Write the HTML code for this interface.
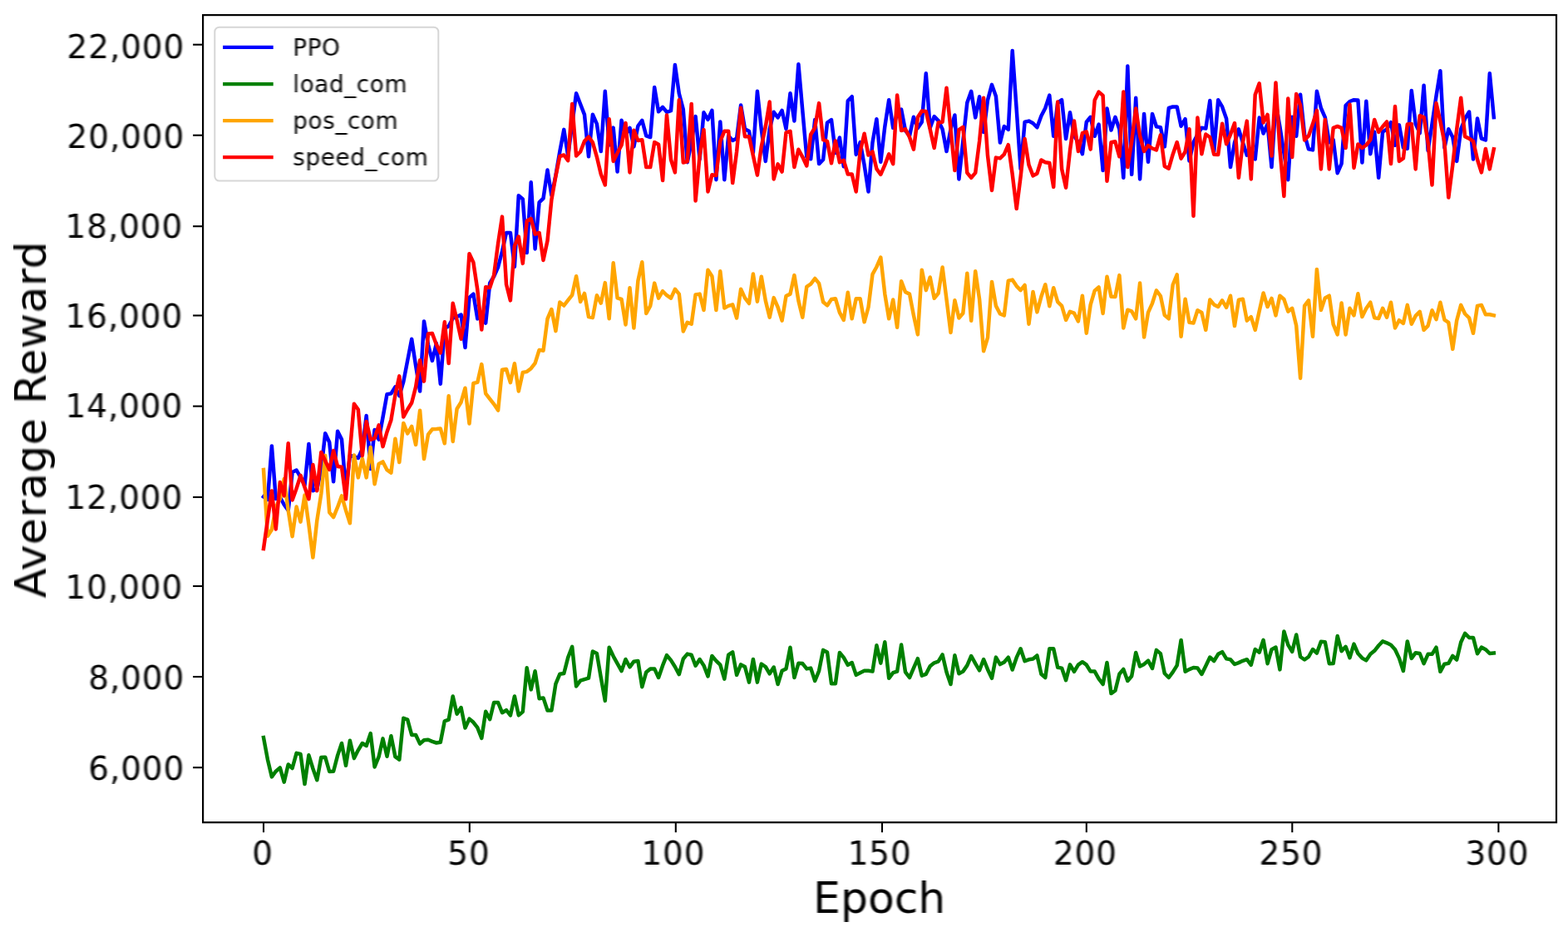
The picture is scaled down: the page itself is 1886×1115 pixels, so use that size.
<!DOCTYPE html>
<html lang="en">
<head>
<meta charset="utf-8">
<title>Average Reward vs Epoch</title>
<style>
html,body{margin:0;padding:0;background:#fff;}
body{width:1886px;height:1115px;overflow:hidden;}
svg{display:block;}
text{font-family:"DejaVu Sans","Liberation Sans",sans-serif;fill:#000;}
.tk{font-size:38.9px;letter-spacing:0.9px;}
.lg{font-size:27.8px;letter-spacing:0.65px;}
.ax{font-size:52px;}
.ay{letter-spacing:0.4px;}
</style>
</head>
<body>
<svg width="1886" height="1115" viewBox="0 0 1886 1115">
<rect x="0" y="0" width="1886" height="1115" fill="#ffffff"/>
<defs><filter id="bl" x="-5%" y="-5%" width="110%" height="110%" color-interpolation-filters="sRGB"><feGaussianBlur stdDeviation="0.7"/></filter><filter id="bt" x="-5%" y="-20%" width="110%" height="140%" color-interpolation-filters="sRGB"><feGaussianBlur stdDeviation="1.0 0.5"/></filter><filter id="bv" x="-20%" y="-5%" width="140%" height="110%" color-interpolation-filters="sRGB"><feGaussianBlur stdDeviation="0.5 1.0"/></filter><clipPath id="clip"><rect x="244.1" y="18.1" width="1627.9" height="971.1"/></clipPath></defs>
<g filter="url(#bl)">
<g clip-path="url(#clip)">
<polyline points="317.0,597.5 321.9,601.0 326.9,536.4 331.8,600.0 336.8,598.0 341.7,607.0 346.7,614.0 351.6,568.0 356.6,565.5 361.5,574.0 366.5,583.6 371.4,534.0 376.4,590.3 381.3,588.0 386.3,565.0 391.2,521.2 396.2,532.0 401.1,579.3 406.1,518.8 411.0,528.6 416.0,589.0 420.9,548.0 425.9,549.0 430.8,551.0 435.8,540.0 440.7,500.1 445.7,564.0 450.6,517.0 455.6,528.6 460.5,502.0 465.5,474.2 470.4,473.4 475.4,465.4 480.3,476.1 485.3,459.1 490.2,433.6 495.2,407.9 500.1,440.0 505.1,470.5 510.0,386.4 515.0,414.5 519.9,433.9 524.9,412.9 529.8,461.7 534.8,395.0 539.7,392.3 544.7,382.7 549.6,381.1 554.6,378.5 559.5,418.0 564.5,357.9 569.4,353.7 574.3,383.4 579.3,380.2 584.2,388.6 589.2,340.4 594.1,332.5 599.1,321.3 604.0,302.3 609.0,280.0 613.9,280.0 618.9,320.8 623.8,235.2 628.8,239.4 633.7,304.1 638.7,219.3 643.6,299.4 648.6,243.4 653.5,238.6 658.5,204.5 663.4,235.0 668.4,211.1 673.3,182.5 678.3,155.9 683.2,187.3 688.2,149.1 693.1,112.2 698.1,125.2 703.0,137.9 708.0,188.3 712.9,137.7 717.9,149.1 722.8,182.0 727.8,109.8 732.7,174.5 737.7,153.6 742.6,206.6 747.6,144.8 752.5,161.8 757.5,153.8 762.4,176.4 767.4,151.5 772.3,144.8 777.3,163.4 782.2,165.0 787.2,105.0 792.1,134.3 797.1,128.9 802.0,134.8 807.0,133.2 811.9,78.0 816.8,112.5 821.8,131.6 826.7,195.2 831.7,171.3 836.6,140.0 841.6,191.5 846.5,135.3 851.5,143.8 856.4,132.9 861.4,216.2 866.3,146.4 871.3,216.2 876.2,163.4 881.2,169.0 886.1,166.6 891.1,126.5 896.0,155.4 901.0,157.8 905.9,183.3 910.9,109.8 915.8,155.4 920.8,193.9 925.7,155.4 930.7,134.8 935.6,141.4 940.6,132.9 945.5,154.9 950.5,112.2 955.4,145.4 960.4,77.2 965.3,133.0 970.3,188.8 975.2,191.2 980.2,144.0 985.1,197.1 990.1,192.0 995.0,147.5 1000.0,144.0 1004.9,184.1 1009.9,165.5 1014.8,200.3 1019.8,121.2 1024.7,116.2 1029.7,185.9 1034.6,171.1 1039.6,198.4 1044.5,230.5 1049.5,171.3 1054.4,143.2 1059.3,194.7 1064.3,152.3 1069.2,120.2 1074.2,153.8 1079.1,136.4 1084.1,131.6 1089.0,157.0 1094.0,163.4 1098.9,140.8 1103.9,154.1 1108.8,146.7 1113.8,88.3 1118.7,153.8 1123.7,140.0 1128.6,145.1 1133.6,155.4 1138.5,182.0 1143.5,155.4 1148.4,138.5 1153.4,215.4 1158.3,169.8 1163.3,123.6 1168.2,109.8 1173.2,141.4 1178.1,116.2 1183.1,158.9 1188.0,120.4 1193.0,101.9 1197.9,115.7 1202.9,171.6 1207.8,152.0 1212.8,155.8 1217.7,61.0 1222.7,131.6 1227.6,203.4 1232.6,146.7 1237.5,145.6 1242.5,148.3 1247.4,153.3 1252.4,139.5 1257.3,130.0 1262.3,114.6 1267.2,163.7 1272.2,123.6 1277.1,120.2 1282.1,166.9 1287.0,135.3 1292.0,163.4 1296.9,171.3 1301.9,185.2 1306.8,146.7 1311.7,140.8 1316.7,163.7 1321.6,149.6 1326.6,205.0 1331.5,130.5 1336.5,156.5 1341.4,140.8 1346.4,155.4 1351.3,213.8 1356.3,79.6 1361.2,209.8 1366.2,117.8 1371.1,215.4 1376.1,136.9 1381.0,194.7 1386.0,136.9 1390.9,152.3 1395.9,153.1 1400.8,176.4 1405.8,130.0 1410.7,128.4 1415.7,128.4 1420.6,151.7 1425.6,143.2 1430.5,193.6 1435.5,171.3 1440.4,161.8 1445.4,153.8 1450.3,154.6 1455.3,121.0 1460.2,182.5 1465.2,120.2 1470.1,128.4 1475.1,142.7 1480.0,201.1 1485.0,171.3 1489.9,155.4 1494.9,171.3 1499.8,186.7 1504.8,179.3 1509.7,191.5 1514.7,141.6 1519.6,160.5 1524.6,149.1 1529.5,201.1 1534.5,123.6 1539.4,152.3 1544.4,184.1 1549.3,216.2 1554.2,140.8 1559.2,163.7 1564.1,113.8 1569.1,161.8 1574.0,179.3 1579.0,180.4 1583.9,109.8 1588.9,130.0 1593.8,141.1 1598.8,171.3 1603.7,168.2 1608.7,208.2 1613.6,196.8 1618.6,126.8 1623.5,122.0 1628.5,120.2 1633.4,120.4 1638.4,195.5 1643.3,121.8 1648.3,185.2 1653.2,158.6 1658.2,213.8 1663.1,158.6 1668.1,155.4 1673.0,147.2 1678.0,174.8 1682.9,150.4 1687.9,177.7 1692.8,178.8 1697.8,109.0 1702.7,149.1 1707.7,160.2 1712.6,102.7 1717.6,181.2 1722.5,149.1 1727.5,115.7 1732.4,85.2 1737.4,177.7 1742.3,155.2 1747.3,165.0 1752.2,193.9 1757.2,155.4 1762.1,142.7 1767.1,134.5 1772.0,191.5 1777.0,142.4 1781.9,166.6 1786.9,168.5 1791.8,88.3 1796.8,141.1" fill="none" stroke="#0000ff" stroke-width="4.5" stroke-linejoin="round" stroke-linecap="square"/>
<polyline points="317.0,887.1 321.9,913.4 326.9,934.4 331.8,927.7 336.8,923.4 341.7,940.7 346.7,919.5 351.6,924.0 356.6,905.9 361.5,907.0 366.5,943.1 371.4,908.3 376.4,924.5 381.3,938.3 386.3,911.0 391.2,910.7 396.2,928.0 401.1,927.7 406.1,908.6 411.0,894.0 416.0,920.8 420.9,890.8 425.9,912.1 430.8,902.3 435.8,894.0 440.7,897.0 445.7,882.1 450.6,922.4 455.6,910.2 460.5,888.4 465.5,909.7 470.4,885.3 475.4,910.2 480.3,913.7 485.3,863.8 490.2,865.7 495.2,884.0 500.1,884.0 505.1,894.6 510.0,890.3 515.0,889.8 519.9,891.9 524.9,893.5 529.8,892.7 534.8,867.3 539.7,865.7 544.7,837.5 549.6,858.8 554.6,851.1 559.5,875.5 564.5,864.6 569.4,868.8 574.3,875.2 579.3,887.9 584.2,855.8 589.2,865.2 594.1,845.0 599.1,845.0 604.0,857.2 609.0,854.2 613.9,860.4 618.9,837.5 623.8,860.4 628.8,856.1 633.7,803.3 638.7,829.4 643.6,807.3 648.6,840.2 653.5,839.4 658.5,854.5 663.4,854.5 668.4,822.7 673.3,810.8 678.3,810.0 683.2,790.9 688.2,777.9 693.1,825.4 698.1,818.7 703.0,817.1 708.0,815.6 712.9,783.5 717.9,786.1 722.8,814.8 727.8,842.9 732.7,778.7 737.7,789.3 742.6,798.1 747.6,807.1 752.5,793.0 757.5,802.3 762.4,795.7 767.4,794.9 772.3,826.2 777.3,808.4 782.2,804.4 787.2,804.4 792.1,815.0 797.1,800.4 802.0,788.2 807.0,794.1 811.9,802.0 816.8,811.1 821.8,792.5 826.7,786.6 831.7,787.7 836.6,800.7 841.6,793.0 846.5,800.4 851.5,813.5 856.4,789.0 861.4,794.9 866.3,799.7 871.3,816.6 876.2,787.7 881.2,784.3 886.1,811.9 891.1,799.4 896.0,802.0 901.0,820.6 905.9,793.0 910.9,820.6 915.8,798.6 920.8,802.0 925.7,810.3 930.7,802.5 935.6,823.0 940.6,806.8 945.5,804.4 950.5,778.7 955.4,815.0 960.4,797.8 965.3,798.1 970.3,804.4 975.2,803.6 980.2,819.0 985.1,806.8 990.1,781.9 995.0,784.5 1000.0,822.2 1004.9,822.2 1009.9,785.0 1014.8,790.9 1019.8,799.9 1024.7,797.0 1029.7,811.9 1034.6,809.2 1039.6,806.8 1044.5,806.8 1049.5,807.6 1054.4,776.3 1059.3,797.6 1064.3,772.3 1069.2,815.8 1074.2,809.2 1079.1,807.6 1084.1,775.5 1089.0,808.4 1094.0,815.0 1098.9,803.6 1103.9,792.2 1108.8,812.7 1113.8,810.8 1118.7,801.2 1123.7,797.3 1128.6,795.7 1133.6,787.4 1138.5,808.4 1143.5,823.0 1148.4,788.2 1153.4,810.3 1158.3,807.6 1163.3,800.4 1168.2,789.0 1173.2,798.1 1178.1,806.3 1183.1,793.0 1188.0,805.2 1193.0,815.8 1197.9,790.6 1202.9,799.1 1207.8,796.5 1212.8,790.6 1217.7,805.5 1222.7,790.9 1227.6,780.3 1232.6,795.2 1237.5,793.3 1242.5,792.5 1247.4,788.5 1252.4,810.8 1257.3,815.0 1262.3,780.2 1267.2,780.2 1272.2,802.8 1277.1,803.6 1282.1,818.2 1287.0,799.4 1292.0,807.9 1296.9,799.7 1301.9,796.2 1306.8,799.7 1311.7,807.6 1316.7,807.6 1321.6,816.4 1326.6,823.0 1331.5,797.0 1336.5,834.1 1341.4,830.7 1346.4,810.8 1351.3,804.9 1356.3,819.0 1361.2,813.2 1366.2,785.0 1371.1,801.5 1376.1,798.9 1381.0,794.6 1386.0,803.9 1390.9,781.9 1395.9,786.1 1400.8,810.0 1405.8,815.0 1410.7,808.4 1415.7,800.4 1420.6,769.9 1425.6,807.8 1430.5,805.1 1435.5,803.0 1440.4,803.5 1445.4,811.0 1450.3,801.1 1455.3,790.5 1460.2,795.0 1465.2,786.8 1470.1,784.1 1475.1,792.4 1480.0,793.2 1485.0,799.0 1489.9,797.1 1494.9,794.8 1499.8,793.2 1504.8,799.8 1509.7,781.0 1514.7,784.7 1519.6,769.8 1524.6,798.2 1529.5,781.2 1534.5,778.6 1539.4,805.4 1544.4,759.5 1549.3,775.7 1554.2,783.9 1559.2,763.5 1564.1,790.0 1569.1,793.5 1574.0,790.0 1579.0,781.0 1583.9,785.5 1588.9,771.7 1593.8,772.2 1598.8,798.2 1603.7,797.9 1608.7,765.0 1613.6,783.1 1618.6,777.8 1623.5,791.1 1628.5,774.6 1633.4,786.0 1638.4,791.6 1643.3,794.3 1648.3,786.8 1653.2,782.8 1658.2,776.5 1663.1,771.4 1668.1,773.3 1673.0,775.7 1678.0,781.2 1682.9,791.6 1687.9,807.0 1692.8,771.4 1697.8,791.9 1702.7,785.2 1707.7,786.0 1712.6,798.2 1717.6,786.8 1722.5,786.8 1727.5,778.6 1732.4,807.8 1737.4,798.7 1742.3,797.9 1747.3,788.9 1752.2,793.5 1757.2,772.5 1762.1,761.9 1767.1,766.9 1772.0,766.9 1777.0,786.3 1781.9,778.6 1786.9,781.2 1791.8,786.0 1796.8,785.5" fill="none" stroke="#008000" stroke-width="4.5" stroke-linejoin="round" stroke-linecap="square"/>
<polyline points="317.0,565.0 321.9,644.8 326.9,637.0 331.8,610.0 336.8,600.0 341.7,576.0 346.7,614.0 351.6,645.2 356.6,609.6 361.5,627.7 366.5,595.6 371.4,631.0 376.4,670.6 381.3,626.0 386.3,594.0 391.2,548.0 396.2,616.2 401.1,622.1 406.1,609.9 411.0,596.4 416.0,613.9 420.9,629.3 425.9,547.5 430.8,574.4 435.8,551.8 440.7,574.4 445.7,538.0 450.6,582.3 455.6,558.0 460.5,555.4 465.5,565.2 470.4,568.7 475.4,527.7 480.3,556.0 485.3,508.9 490.2,521.4 495.2,512.9 500.1,534.9 505.1,493.8 510.0,552.0 515.0,522.7 519.9,516.3 524.9,516.0 529.8,515.5 534.8,533.3 539.7,476.3 544.7,530.9 549.6,491.7 554.6,483.7 559.5,466.7 564.5,509.5 569.4,461.0 574.3,459.9 579.3,438.1 584.2,473.4 589.2,479.8 594.1,486.1 599.1,493.6 604.0,444.8 609.0,444.0 613.9,460.2 618.9,437.3 623.8,470.5 628.8,447.9 633.7,447.1 638.7,443.2 643.6,436.8 648.6,420.9 653.5,421.7 658.5,383.5 663.4,372.0 668.4,398.1 673.3,363.5 678.3,367.5 683.2,361.1 688.2,354.8 693.1,332.2 698.1,363.0 703.0,352.9 708.0,381.0 712.9,382.1 717.9,355.3 722.8,364.6 727.8,340.1 732.7,383.3 737.7,316.3 742.6,358.4 747.6,360.0 752.5,390.5 757.5,346.2 762.4,394.5 767.4,337.7 772.3,315.2 777.3,377.0 782.2,367.9 787.2,340.6 792.1,358.7 797.1,350.2 802.0,355.2 807.0,358.7 811.9,347.8 816.8,353.6 821.8,398.5 826.7,387.8 831.7,389.7 836.6,354.4 841.6,353.6 846.5,373.0 851.5,324.7 856.4,332.2 861.4,373.0 866.3,326.3 871.3,370.6 876.2,367.9 881.2,366.4 886.1,382.5 891.1,347.8 896.0,358.4 901.0,365.0 905.9,329.5 910.9,362.7 915.8,332.7 920.8,361.6 925.7,381.7 930.7,358.1 935.6,369.5 940.6,385.7 945.5,356.0 950.5,353.6 955.4,331.1 960.4,361.6 965.3,381.7 970.3,344.9 975.2,341.7 980.2,335.0 985.1,340.9 990.1,363.2 995.0,367.4 1000.0,360.0 1004.9,359.2 1009.9,375.9 1014.8,384.9 1019.8,351.8 1024.7,383.3 1029.7,359.2 1034.6,359.2 1039.6,387.3 1044.5,369.5 1049.5,329.8 1054.4,321.0 1059.3,309.6 1064.3,353.6 1069.2,383.3 1074.2,360.5 1079.1,393.7 1084.1,338.2 1089.0,351.2 1094.0,353.6 1098.9,379.1 1103.9,402.4 1108.8,324.7 1113.8,349.1 1118.7,333.5 1123.7,358.7 1128.6,352.8 1133.6,321.5 1138.5,360.0 1143.5,400.0 1148.4,361.3 1153.4,382.5 1158.3,376.7 1163.3,328.7 1168.2,385.7 1173.2,326.3 1178.1,360.0 1183.1,422.3 1188.0,406.1 1193.0,339.0 1197.9,367.9 1202.9,377.5 1207.8,379.4 1212.8,337.7 1217.7,336.6 1222.7,344.1 1227.6,349.1 1232.6,343.0 1237.5,389.7 1242.5,351.0 1247.4,375.4 1252.4,356.8 1257.3,342.2 1262.3,368.2 1267.2,346.2 1272.2,363.2 1277.1,367.9 1282.1,384.9 1287.0,374.8 1292.0,376.7 1296.9,386.5 1301.9,355.7 1306.8,400.8 1311.7,366.4 1316.7,349.7 1321.6,345.4 1326.6,377.0 1331.5,332.7 1336.5,356.8 1341.4,357.1 1346.4,331.1 1351.3,394.5 1356.3,372.7 1361.2,374.3 1366.2,383.3 1371.1,340.6 1376.1,405.6 1381.0,375.9 1386.0,364.8 1390.9,349.4 1395.9,356.0 1400.8,379.1 1405.8,383.3 1410.7,342.5 1415.7,330.3 1420.6,404.8 1425.6,359.7 1430.5,387.8 1435.5,388.6 1440.4,373.2 1445.4,375.9 1450.3,396.9 1455.3,360.5 1460.2,366.4 1465.2,369.0 1470.1,361.3 1475.1,369.8 1480.0,355.7 1485.0,392.1 1489.9,360.8 1494.9,359.7 1499.8,385.7 1504.8,381.2 1509.7,396.9 1514.7,374.3 1519.6,352.5 1524.6,369.0 1529.5,358.9 1534.5,379.4 1539.4,355.7 1544.4,360.0 1549.3,374.6 1554.2,370.8 1559.2,391.8 1564.1,454.9 1569.1,367.9 1574.0,361.3 1579.0,404.8 1583.9,323.9 1588.9,373.0 1593.8,358.4 1598.8,355.7 1603.7,390.2 1608.7,402.4 1613.6,364.5 1618.6,402.4 1623.5,370.8 1628.5,379.4 1633.4,353.3 1638.4,381.0 1643.3,371.1 1648.3,363.7 1653.2,382.3 1658.2,383.1 1663.1,370.8 1668.1,381.7 1673.0,363.7 1678.0,394.5 1682.9,385.2 1687.9,388.9 1692.8,366.9 1697.8,389.7 1702.7,379.9 1707.7,374.8 1712.6,396.9 1717.6,391.8 1722.5,373.2 1727.5,384.1 1732.4,363.7 1737.4,384.6 1742.3,387.8 1747.3,419.9 1752.2,385.4 1757.2,366.9 1762.1,377.5 1767.1,382.3 1772.0,400.8 1777.0,367.9 1781.9,366.9 1786.9,378.3 1791.8,378.3 1796.8,379.4" fill="none" stroke="#ffa500" stroke-width="4.5" stroke-linejoin="round" stroke-linecap="square"/>
<polyline points="317.0,660.0 321.9,625.2 326.9,590.5 331.8,636.4 336.8,580.1 341.7,596.4 346.7,533.2 351.6,601.4 356.6,587.6 361.5,571.8 366.5,586.0 371.4,600.2 376.4,559.1 381.3,590.3 386.3,543.9 391.2,554.2 396.2,564.9 401.1,542.0 406.1,561.0 411.0,561.8 416.0,600.2 420.9,543.0 425.9,485.8 430.8,492.5 435.8,548.0 440.7,507.0 445.7,528.8 450.6,527.2 455.6,511.4 460.5,537.1 465.5,519.5 470.4,505.2 475.4,475.0 480.3,452.4 485.3,501.5 490.2,492.5 495.2,484.5 500.1,465.4 505.1,433.3 510.0,458.6 515.0,401.5 519.9,401.0 524.9,414.5 529.8,424.4 534.8,387.2 539.7,437.1 544.7,364.8 549.6,385.0 554.6,407.7 559.5,380.0 564.5,305.2 569.4,315.8 574.3,348.4 579.3,396.5 584.2,345.2 589.2,346.0 594.1,330.9 599.1,292.7 604.0,260.6 609.0,342.0 613.9,361.4 618.9,295.9 623.8,284.5 628.8,316.9 633.7,265.7 638.7,263.0 643.6,281.6 648.6,280.0 653.5,312.9 658.5,289.5 663.4,240.0 668.4,212.0 673.3,188.0 678.3,186.5 683.2,193.1 688.2,124.9 693.1,187.5 698.1,182.5 703.0,169.8 708.0,164.7 712.9,171.3 717.9,188.8 722.8,209.5 727.8,222.5 732.7,143.2 737.7,193.9 742.6,184.1 747.6,174.5 752.5,148.0 757.5,207.4 762.4,156.7 767.4,169.0 772.3,168.2 777.3,201.1 782.2,201.1 787.2,171.1 792.1,173.7 797.1,217.0 802.0,138.5 807.0,192.0 811.9,207.4 816.8,120.2 821.8,195.5 826.7,194.4 831.7,124.9 836.6,241.6 841.6,187.3 846.5,155.9 851.5,230.5 856.4,210.3 861.4,211.1 866.3,169.8 871.3,157.8 876.2,157.8 881.2,220.1 886.1,182.5 891.1,129.7 896.0,164.2 901.0,164.2 905.9,187.3 910.9,210.6 915.8,176.1 920.8,152.3 925.7,122.5 930.7,215.4 935.6,197.3 940.6,206.6 945.5,159.4 950.5,157.8 955.4,201.1 960.4,179.8 965.3,188.8 970.3,199.5 975.2,161.8 980.2,153.8 985.1,124.1 990.1,168.2 995.0,169.8 1000.0,196.3 1004.9,169.5 1009.9,195.2 1014.8,192.8 1019.8,209.5 1024.7,209.5 1029.7,230.5 1034.6,182.5 1039.6,160.7 1044.5,186.5 1049.5,182.5 1054.4,203.2 1059.3,209.8 1064.3,198.4 1069.2,185.4 1074.2,197.1 1079.1,114.6 1084.1,157.0 1089.0,155.4 1094.0,165.0 1098.9,179.6 1103.9,141.1 1108.8,133.6 1113.8,134.0 1118.7,155.4 1123.7,178.0 1128.6,147.5 1133.6,146.7 1138.5,105.8 1143.5,155.4 1148.4,205.0 1153.4,156.2 1158.3,152.8 1163.3,207.9 1168.2,213.8 1173.2,207.9 1178.1,169.8 1183.1,117.8 1188.0,187.3 1193.0,229.0 1197.9,189.6 1202.9,190.4 1207.8,185.7 1212.8,174.2 1217.7,209.5 1222.7,251.1 1227.6,212.7 1232.6,167.1 1237.5,198.4 1242.5,211.4 1247.4,208.7 1252.4,192.5 1257.3,195.2 1262.3,196.0 1267.2,224.9 1272.2,122.5 1277.1,203.2 1282.1,225.7 1287.0,180.9 1292.0,145.6 1296.9,182.0 1301.9,160.2 1306.8,158.3 1311.7,179.6 1316.7,120.4 1321.6,110.6 1326.6,114.9 1331.5,217.8 1336.5,171.3 1341.4,170.3 1346.4,188.3 1351.3,110.6 1356.3,201.1 1361.2,169.8 1366.2,130.5 1371.1,163.4 1376.1,182.0 1381.0,175.0 1386.0,178.5 1390.9,180.4 1395.9,162.3 1400.8,200.0 1405.8,202.7 1410.7,185.7 1415.7,171.1 1420.6,190.7 1425.6,182.5 1430.5,155.2 1435.5,259.8 1440.4,141.6 1445.4,185.2 1450.3,161.5 1455.3,165.0 1460.2,185.7 1465.2,185.9 1470.1,148.8 1475.1,173.2 1480.0,161.8 1485.0,148.0 1489.9,213.8 1494.9,171.3 1499.8,145.6 1504.8,215.4 1509.7,114.1 1514.7,100.3 1519.6,147.5 1524.6,137.9 1529.5,187.5 1534.5,99.5 1539.4,179.3 1544.4,236.0 1549.3,118.6 1554.2,189.1 1559.2,113.0 1564.1,126.8 1569.1,168.5 1574.0,163.4 1579.0,149.1 1583.9,132.9 1588.9,203.4 1593.8,144.0 1598.8,203.4 1603.7,153.8 1608.7,151.9 1613.6,153.8 1618.6,178.0 1623.5,125.7 1628.5,201.9 1633.4,173.4 1638.4,178.0 1643.3,174.5 1648.3,168.2 1653.2,144.0 1658.2,158.9 1663.1,152.3 1668.1,146.4 1673.0,197.1 1678.0,128.1 1682.9,193.9 1687.9,190.4 1692.8,149.6 1697.8,149.1 1702.7,203.4 1707.7,139.2 1712.6,141.1 1717.6,171.3 1722.5,222.5 1727.5,124.1 1732.4,145.9 1737.4,171.3 1742.3,237.6 1747.3,198.4 1752.2,155.4 1757.2,117.8 1762.1,164.2 1767.1,166.6 1772.0,169.8 1777.0,192.0 1781.9,207.4 1786.9,179.0 1791.8,203.4 1796.8,179.3" fill="none" stroke="#ff0000" stroke-width="4.5" stroke-linejoin="round" stroke-linecap="square"/>
</g>
<rect x="244.1" y="18.1" width="1627.9" height="971.1" fill="none" stroke="#000" stroke-width="2.2"/>
<line x1="232.1" y1="923.2" x2="244.1" y2="923.2" stroke="#000" stroke-width="2.1"/>
<line x1="232.1" y1="814.0" x2="244.1" y2="814.0" stroke="#000" stroke-width="2.1"/>
<line x1="232.1" y1="705.0" x2="244.1" y2="705.0" stroke="#000" stroke-width="2.1"/>
<line x1="232.1" y1="598.0" x2="244.1" y2="598.0" stroke="#000" stroke-width="2.1"/>
<line x1="232.1" y1="488.6" x2="244.1" y2="488.6" stroke="#000" stroke-width="2.1"/>
<line x1="232.1" y1="379.5" x2="244.1" y2="379.5" stroke="#000" stroke-width="2.1"/>
<line x1="232.1" y1="272.2" x2="244.1" y2="272.2" stroke="#000" stroke-width="2.1"/>
<line x1="232.1" y1="162.7" x2="244.1" y2="162.7" stroke="#000" stroke-width="2.1"/>
<line x1="232.1" y1="53.7" x2="244.1" y2="53.7" stroke="#000" stroke-width="2.1"/>
<line x1="317.0" y1="989.2" x2="317.0" y2="1001.2" stroke="#000" stroke-width="2.1"/>
<line x1="564.8" y1="989.2" x2="564.8" y2="1001.2" stroke="#000" stroke-width="2.1"/>
<line x1="812.8" y1="989.2" x2="812.8" y2="1001.2" stroke="#000" stroke-width="2.1"/>
<line x1="1061.0" y1="989.2" x2="1061.0" y2="1001.2" stroke="#000" stroke-width="2.1"/>
<line x1="1306.8" y1="989.2" x2="1306.8" y2="1001.2" stroke="#000" stroke-width="2.1"/>
<line x1="1554.3" y1="989.2" x2="1554.3" y2="1001.2" stroke="#000" stroke-width="2.1"/>
<line x1="1802.4" y1="989.2" x2="1802.4" y2="1001.2" stroke="#000" stroke-width="2.1"/>
</g>
<g filter="url(#bt)">
<text x="222.1" y="937.5" text-anchor="end" class="tk">6,000</text>
<text x="222.1" y="829.0" text-anchor="end" class="tk">8,000</text>
<text x="220.1" y="720.0" text-anchor="end" class="tk">10,000</text>
<text x="220.1" y="612.0" text-anchor="end" class="tk">12,000</text>
<text x="220.1" y="502.0" text-anchor="end" class="tk">14,000</text>
<text x="220.1" y="394.0" text-anchor="end" class="tk">16,000</text>
<text x="220.1" y="286.4" text-anchor="end" class="tk">18,000</text>
<text x="222.1" y="178.0" text-anchor="end" class="tk">20,000</text>
<text x="222.1" y="69.5" text-anchor="end" class="tk">22,000</text>
<text x="316.2" y="1039.8" text-anchor="middle" class="tk">0</text>
<text x="564.0" y="1039.8" text-anchor="middle" class="tk">50</text>
<text x="809.9" y="1039.8" text-anchor="middle" class="tk">100</text>
<text x="1058.1" y="1039.8" text-anchor="middle" class="tk">150</text>
<text x="1305.4" y="1039.8" text-anchor="middle" class="tk">200</text>
<text x="1553.0" y="1039.8" text-anchor="middle" class="tk">250</text>
<text x="1800.9" y="1039.8" text-anchor="middle" class="tk">300</text>
<text x="1057.7" y="1098.4" text-anchor="middle" class="ax">Epoch</text>
</g>
<g filter="url(#bv)">
<text transform="translate(55.3,504.6) rotate(-90)" text-anchor="middle" class="ax ay">Average Reward</text>
</g>
<g filter="url(#bl)">
<rect x="258.3" y="32.7" width="269" height="184.9" rx="5.5" ry="5.5" fill="#ffffff" fill-opacity="0.8" stroke="#cccccc" stroke-opacity="0.8" stroke-width="2"/>
<line x1="270.2" y1="56.9" x2="326.6" y2="56.9" stroke="#0000ff" stroke-width="4.2" stroke-linecap="square"/>
<line x1="270.2" y1="101.1" x2="326.6" y2="101.1" stroke="#008000" stroke-width="4.2" stroke-linecap="square"/>
<line x1="270.2" y1="145.2" x2="326.6" y2="145.2" stroke="#ffa500" stroke-width="4.2" stroke-linecap="square"/>
<line x1="270.2" y1="189.1" x2="326.6" y2="189.1" stroke="#ff0000" stroke-width="4.2" stroke-linecap="square"/>
</g>
<g filter="url(#bt)">
<text x="352.3" y="67.4" class="lg">PPO</text>
<text x="352.3" y="110.8" class="lg">load_com</text>
<text x="352.3" y="155.0" class="lg">pos_com</text>
<text x="352.3" y="198.9" class="lg">speed_com</text>
</g>
</svg>
</body>
</html>
